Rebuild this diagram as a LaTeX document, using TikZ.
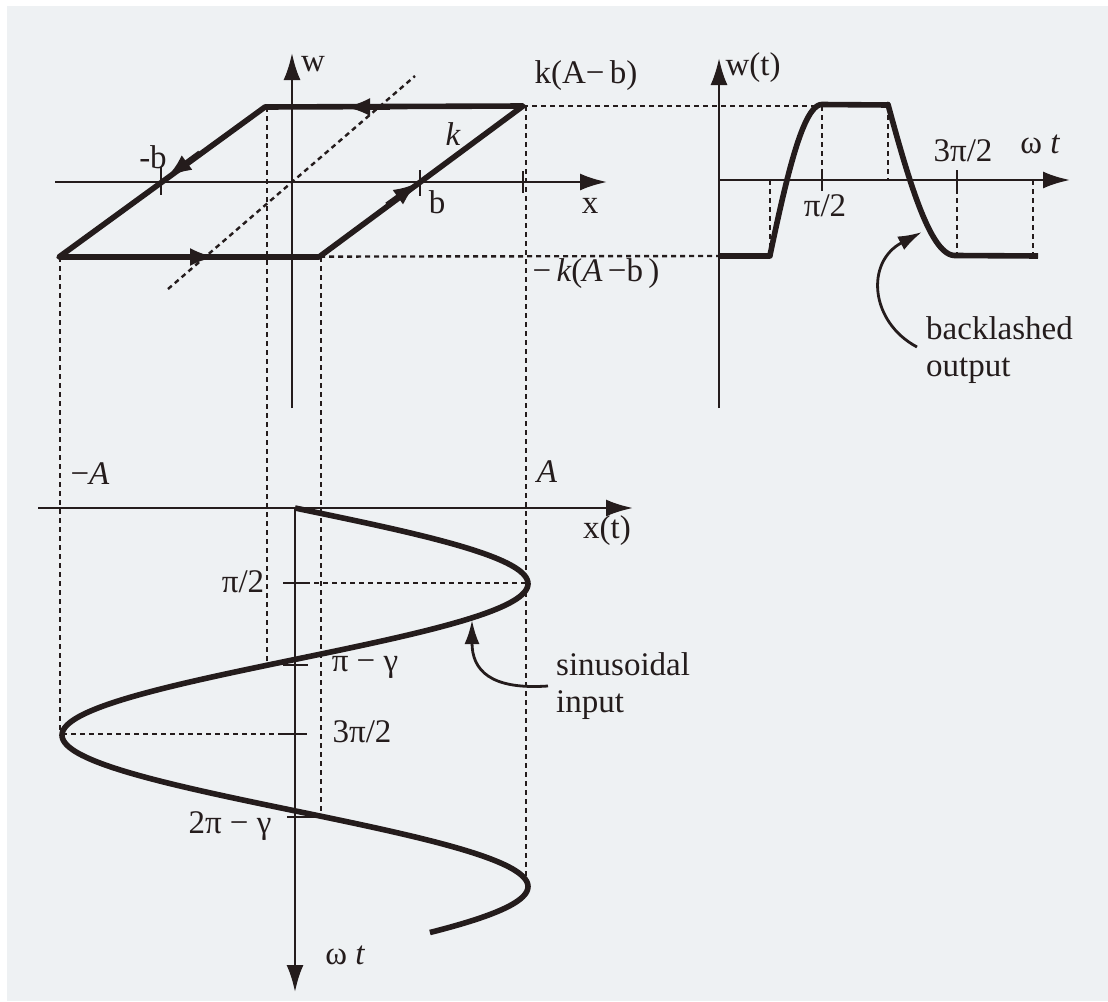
\documentclass[tikz,border=0pt]{standalone}
\usepackage{fontspec}
\setmainfont{Liberation Serif}
\usetikzlibrary{arrows.meta}
\definecolor{ink}{HTML}{241C1C}
\definecolor{paper}{HTML}{EEF1F3}
\begin{document}
\begin{tikzpicture}[x=1pt,y=-1pt,
  axisln/.style={draw=ink,line width=2.6pt},
  axarrow/.style={axisln,-{Latex[length=27pt,width=17pt]}},
  curve/.style={draw=ink,line width=5.6pt,line join=round},
  midarrow/.style={draw=ink,line width=5.6pt,-{Latex[length=26pt,width=18pt]}},
  dashln/.style={draw=ink,line width=2.4pt,dash pattern=on 5pt off 4pt},
  tickln/.style={draw=ink,line width=2.6pt},
  lab/.style={font=\fontsize{33}{37}\selectfont,inner sep=0pt,text=ink},
  pointer/.style={draw=ink,line width=2.8pt,-{Latex[length=24pt,width=15pt]}}]
\useasboundingbox (0,0) rectangle (1108,1001);
\fill[white] (0,0) rectangle (1108,1001);
\fill[paper] (7,6) rectangle (1108,1001);

% ---------- key coordinates ----------
\coordinate (O1) at (292,182);
\coordinate (wTop) at (292,53);
\coordinate (wBot) at (292,408);
\coordinate (xL) at (55,182);
\coordinate (xR) at (607,182);
\coordinate (TL) at (265,107);
\coordinate (TR) at (523,106);
\coordinate (BL) at (59,257);
\coordinate (BR) at (319,257);
\coordinate (dgA) at (168,289);
\coordinate (dgB) at (415,76);

\coordinate (O2) at (719,180);
\coordinate (wtTop) at (719,58);
\coordinate (wtBot) at (719,408);
\coordinate (tR) at (1070,180);

\coordinate (O3) at (295,508);
\coordinate (xtL) at (38,508);
\coordinate (xtR) at (633,508);
\coordinate (tBot) at (295,992);

% ---------- dashed projection lines ----------
\draw[dashln] (60,257) -- (60,734);
\draw[dashln] (267,107) -- (267,664);
\draw[dashln] (321,257) -- (321,815);
\draw[dashln] (526,106) -- (526,878);
\draw[dashln] (TR) -- (822,106);
\draw[dashln] (BL) -- (719,256);
\draw[dashln] (dgA) -- (dgB);

% ---------- hysteresis plot ----------
\draw[axarrow] (wBot) -- (wTop);
\draw[axarrow] (xL) -- (xR);
\draw[tickln] (161,167) -- (161,195);
\draw[tickln] (420,170) -- (420,196);
\draw[tickln] (523,171) -- (523,193);
\draw[curve] (BL) -- (BR) -- (TR) -- (TL) -- cycle;
\draw[midarrow] (390,107) -- (344,107);
\draw[midarrow] (200,153) -- (166,178);
\draw[midarrow] (387,205) -- (419,182);
\draw[midarrow] (170,257) -- (216,257);

\node[lab] (lw) at (313,64) {w};
\node[lab] (lmb) at (153,157) {-b};
\node[lab] (lb) at (437,202) {b};
\node[lab] (lk) at (453,134) {\itshape k};
\node[lab] (lx) at (590,206) {x};
\node[lab] (lkab) at (586,76) {k(A−\,b)};
\node[lab] (lmkab) at (596,274) {−\,\itshape k\upshape(\itshape A\upshape\,−b\,)};

% ---------- output plot ----------
\draw[axarrow] (wtBot) -- (wtTop);
\draw[axarrow] (O2) -- (tR);
\draw[dashln] (770,180) -- (770,256);
\draw[dashln] (822,106) -- (822,180);
\draw[dashln] (888,106) -- (888,180);
\draw[dashln] (957,180) -- (957,256);
\draw[dashln] (1033,180) -- (1033,256);
\draw[tickln] (822,170) -- (822,191);
\draw[tickln] (957,170) -- (957,191);
\draw[curve] (719,256) -- (770,256)
  -- plot[domain=0.11:1.5708,samples=60,variable=\t]
     ({770+(\t-0.11)/1.4608*52},{180-0.733*(231*sin(\t r)-128)})
  -- (888,105)
  -- plot[domain=3.25:4.7124,samples=60,variable=\t]
     ({888+(\t-3.25)/1.4624*67},{180-0.733*(231*sin(\t r)+128)})
  -- (1038,256);

\node[lab] (lwt) at (753,68) {w(t)};
\node[lab] (lpi2r) at (825,206) {π/2};
\node[lab] (l3pi2r) at (963,151) {3π/2};
\node[lab] (lwtr) at (1040,144) {ω \itshape t};
\node[lab,anchor=west,align=left] (lback) at (926,350) {backlashed\\output};
\draw[pointer] (917,347) .. controls (870,322) and (865,262) .. (922,232);

% ---------- input plot ----------
\draw[axarrow] (xtL) -- (xtR);
\draw[axarrow] (O3) -- (tBot);
\draw[dashln] (305,583) -- (527,583);
\draw[dashln] (62,734) -- (283,734);
\draw[tickln] (283,583) -- (306,583);
\draw[tickln] (283,665) -- (308,665);
\draw[tickln] (283,734) -- (307,734);
\draw[tickln] (287,817) -- (315,817);
\draw[curve,line cap=butt] plot[domain=0:8.81,samples=240,variable=\t]
  ({295+233*sin(\t r)},{508+48.2*\t});

\node[lab] (lmA) at (90,474) {−\itshape A};
\node[lab] (lA) at (547,472) {\itshape A};
\node[lab] (lxt) at (607,531) {x(t)};
\node[lab] (lpi2) at (243,582) {π/2};
\node[lab] (lpig) at (365,667) {π − γ};
\node[lab] (l3pi2) at (362,732) {3π/2};
\node[lab] (l2pig) at (230,826) {2π − γ};
\node[lab] (lwt2) at (345,955) {ω \itshape t};
\node[lab,anchor=west,align=left] (lsin) at (556,686) {sinusoidal\\input};
\draw[pointer] (548,686) .. controls (490,690) and (472,670) .. (472,620);
\end{tikzpicture}
\end{document}
